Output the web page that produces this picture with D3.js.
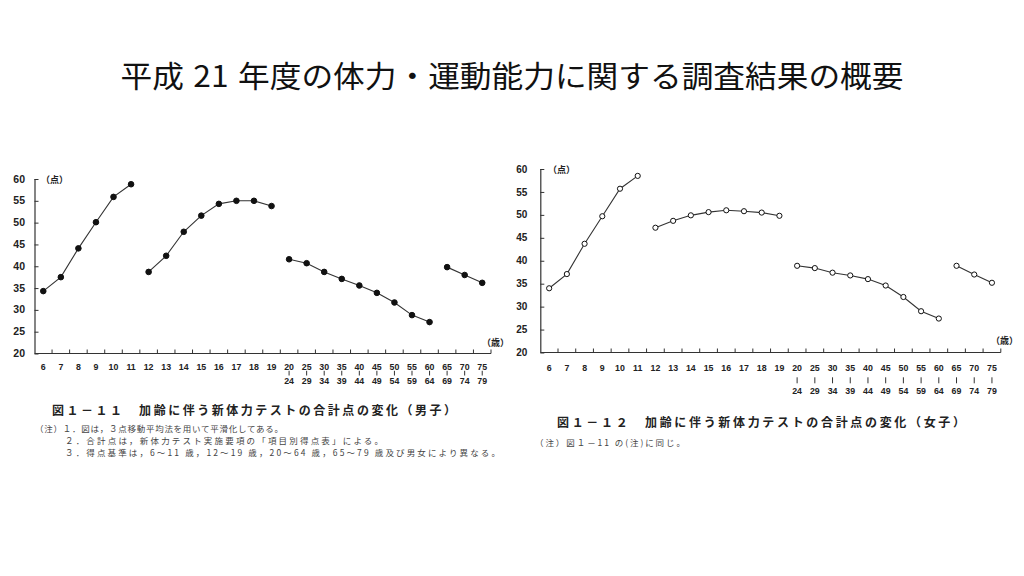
<!DOCTYPE html>
<html>
<head>
<meta charset="utf-8">
<script src="https://cdn.jsdelivr.net/npm/d3@7/dist/d3.min.js"></script>
<style>
  html, body { margin: 0; padding: 0; background: #fff; }
  svg { display: block; }
</style>
</head>
<body>
<svg id="chart" width="1024" height="576"></svg>
<script>
// ---- data ----
const ageLabelsTop = ["6","7","8","9","10","11","12","13","14","15","16","17","18","19",
  "20","25","30","35","40","45","50","55","60","65","70","75"];
const ageLabelsBottom = ["","","","","","","","","","","","","","",
  "24","29","34","39","44","49","54","59","64","69","74","79"];
const maleScores = [34.3, 37.5, 44.1, 50.1, 55.9, 58.8,
  38.7, 42.4, 47.9, 51.6, 54.3, 55.0, 55.0, 53.8,
  41.6, 40.7, 38.7, 37.1, 35.6, 33.9, 31.7, 28.8, 27.2,
  39.8, 38.0, 36.2];
const femaleScores = [34.0, 37.1, 43.7, 49.7, 55.7, 58.5,
  47.2, 48.7, 49.9, 50.6, 51.0, 50.8, 50.5, 49.8,
  38.9, 38.4, 37.4, 36.8, 36.0, 34.6, 32.1, 29.0, 27.4,
  38.9, 37.0, 35.2];
// age groups (index ranges) that are connected by lines
const segments = [[0, 5], [6, 13], [14, 22], [23, 25]];
const yTicks = [20, 25, 30, 35, 40, 45, 50, 55, 60];
const titleParts = ["平成", "21", "年度の体力・運動能力に関する調査結果の概要"];
const maleCaption = "図１－１１　加齢に伴う新体力テストの合計点の変化（男子）";
const maleNotes = ["（注）１．図は，３点移動平均法を用いて平滑化してある。",
  "２．合計点は，新体力テスト実施要項の「項目別得点表」による。",
  "３．得点基準は，6～11 歳，12～19 歳，20～64 歳，65～79 歳及び男女により異なる。"];
const femaleCaption = "図１－１２　加齢に伴う新体力テストの合計点の変化（女子）";
const femaleNotes = ["（注）図１－11 の(注)に同じ。"];
const yUnit = "（点）";
const xUnit = "（歳）";

const svg = d3.select("#chart");
const JP = "'Noto Sans CJK JP', 'Noto Sans', sans-serif";
const NUM = "'Liberation Sans', Arial, sans-serif";

const title = svg.append("text")
  .attr("x", 512).attr("y", 87)
  .attr("text-anchor", "middle")
  .attr("font-family", JP)
  .attr("font-size", 30)
  .attr("fill", "#111")
  .attr("textLength", 783).attr("lengthAdjust", "spacingAndGlyphs");
title.selectAll("tspan").data(titleParts).join("tspan")
  .attr("dx", (d, i) => i === 0 ? 0 : 9)
  .text(d => d);

function drawChart(cfg) {
  const g = svg.append("g");
  const x = d3.scaleBand().domain(d3.range(ageLabelsTop.length))
    .range([cfg.x0, cfg.x1]).paddingInner(0).paddingOuter(0);
  const y = d3.scaleLinear().domain([20, 60]).range([cfg.yb, cfg.yt]);
  const bw = x.bandwidth();

  // y axis
  const yAxis = d3.axisRight(y).tickValues(yTicks).tickSize(4).tickFormat("");
  const ya = g.append("g").attr("transform", `translate(${cfg.x0},0)`).call(yAxis);
  ya.select(".domain").attr("stroke", "#333").attr("stroke-width", 1.2)
    .attr("d", `M0.5,${cfg.yt}V${cfg.yb}`);
  ya.selectAll(".tick line").attr("stroke", "#333").attr("stroke-width", 1);
  g.selectAll(".ylab").data(yTicks).join("text")
    .attr("x", cfg.x0 - cfg.ylabOff).attr("y", d => y(d) + 3.6)
    .attr("text-anchor", "end")
    .attr("font-family", NUM).attr("font-size", cfg.yFont).attr("font-weight", "bold")
    .attr("fill", "#222").text(d => d);

  // x axis line and ticks at band boundaries
  const bounds = d3.range(ageLabelsTop.length + 1).map(i => cfg.x0 + i * bw);
  g.append("line").attr("x1", cfg.x0).attr("x2", cfg.x1)
    .attr("y1", cfg.yb).attr("y2", cfg.yb)
    .attr("stroke", "#333").attr("stroke-width", 1.2);
  g.selectAll(".xt").data(bounds.slice(1)).join("line")
    .attr("x1", d => d).attr("x2", d => d)
    .attr("y1", cfg.yb).attr("y2", cfg.yb - 4)
    .attr("stroke", "#333").attr("stroke-width", 1);

  const cx = i => x(i) + bw / 2;
  g.selectAll(".xl").data(ageLabelsTop).join("text")
    .attr("x", (d, i) => cx(i)).attr("y", cfg.row1)
    .attr("text-anchor", "middle")
    .attr("font-family", NUM).attr("font-size", 8.8).attr("font-weight", "bold")
    .attr("fill", "#222").text(d => d);
  const bottomIdx = d3.range(ageLabelsBottom.length).filter(i => ageLabelsBottom[i] !== "");
  g.selectAll(".xbar").data(bottomIdx).join("line")
    .attr("x1", i => cx(i)).attr("x2", i => cx(i))
    .attr("y1", cfg.bar1).attr("y2", cfg.bar2)
    .attr("stroke", "#333").attr("stroke-width", 1);
  g.selectAll(".xl2").data(bottomIdx).join("text")
    .attr("x", i => cx(i)).attr("y", cfg.row2)
    .attr("text-anchor", "middle")
    .attr("font-family", NUM).attr("font-size", 8.8).attr("font-weight", "bold")
    .attr("fill", "#222").text(i => ageLabelsBottom[i]);

  // unit labels
  g.append("text").attr("x", cfg.yUnitX).attr("y", cfg.yt + 4)
    .attr("font-family", JP).attr("font-size", 9).attr("font-weight", "bold")
    .attr("fill", "#222").text(yUnit);
  g.append("text").attr("x", cfg.xUnitX).attr("y", cfg.xUnitY)
    .attr("font-family", JP).attr("font-size", 9).attr("font-weight", "bold")
    .attr("fill", "#222").text(xUnit);

  // lines
  const line = d3.line().x(d => cx(d.i)).y(d => y(d.v));
  segments.forEach(([a, b]) => {
    const pts = d3.range(a, b + 1).map(i => ({ i, v: cfg.values[i] }));
    g.append("path").attr("d", line(pts)).attr("fill", "none")
      .attr("stroke", "#333").attr("stroke-width", 1.1);
  });
  const pts = cfg.values.map((v, i) => ({ i, v }));
  g.selectAll(".pt").data(pts).join("circle")
    .attr("cx", d => cx(d.i)).attr("cy", d => y(d.v))
    .attr("r", cfg.filled ? 2.8 : 2.6)
    .attr("fill", cfg.filled ? "#111" : "#fff")
    .attr("stroke", "#111").attr("stroke-width", 1);

  // caption
  g.append("text").attr("x", cfg.capX).attr("y", cfg.capY)
    .attr("font-family", JP).attr("font-size", 12).attr("font-weight", "bold")
    .attr("fill", "#222")
    .attr("textLength", cfg.capW).attr("lengthAdjust", "spacing")
    .text(cfg.caption);
  cfg.notes.forEach((t, k) => {
    g.append("text").attr("x", cfg.noteX[k]).attr("y", cfg.noteY[k])
      .attr("font-family", JP).attr("font-size", 8.5)
      .attr("fill", "#444")
      .attr("textLength", cfg.noteW[k]).attr("lengthAdjust", "spacing")
      .text(t);
  });
}

drawChart({
  values: maleScores, filled: true,
  x0: 34.5, x1: 491, yt: 179, yb: 353.5, ylabOff: 9.5, yFont: 10.5,
  row1: 370.3, bar1: 370.8, bar2: 375.5, row2: 384.3,
  yUnitX: 41, xUnitX: 482, xUnitY: 346,
  caption: maleCaption, capX: 52, capY: 414.5, capW: 404,
  notes: maleNotes, noteX: [35, 65, 65], noteY: [432, 444, 456], noteW: [248, 318, 435]
});
drawChart({
  values: femaleScores, filled: false,
  x0: 540.3, x1: 1000.8, yt: 169, yb: 352.5, ylabOff: 13, yFont: 10,
  row1: 370.8, bar1: 377.3, bar2: 383.3, row2: 394.3,
  yUnitX: 548, xUnitX: 991, xUnitY: 344,
  caption: femaleCaption, capX: 557, capY: 427, capW: 408,
  notes: femaleNotes, noteX: [535], noteY: [445.5], noteW: [150]
});
</script>
</body>
</html>
